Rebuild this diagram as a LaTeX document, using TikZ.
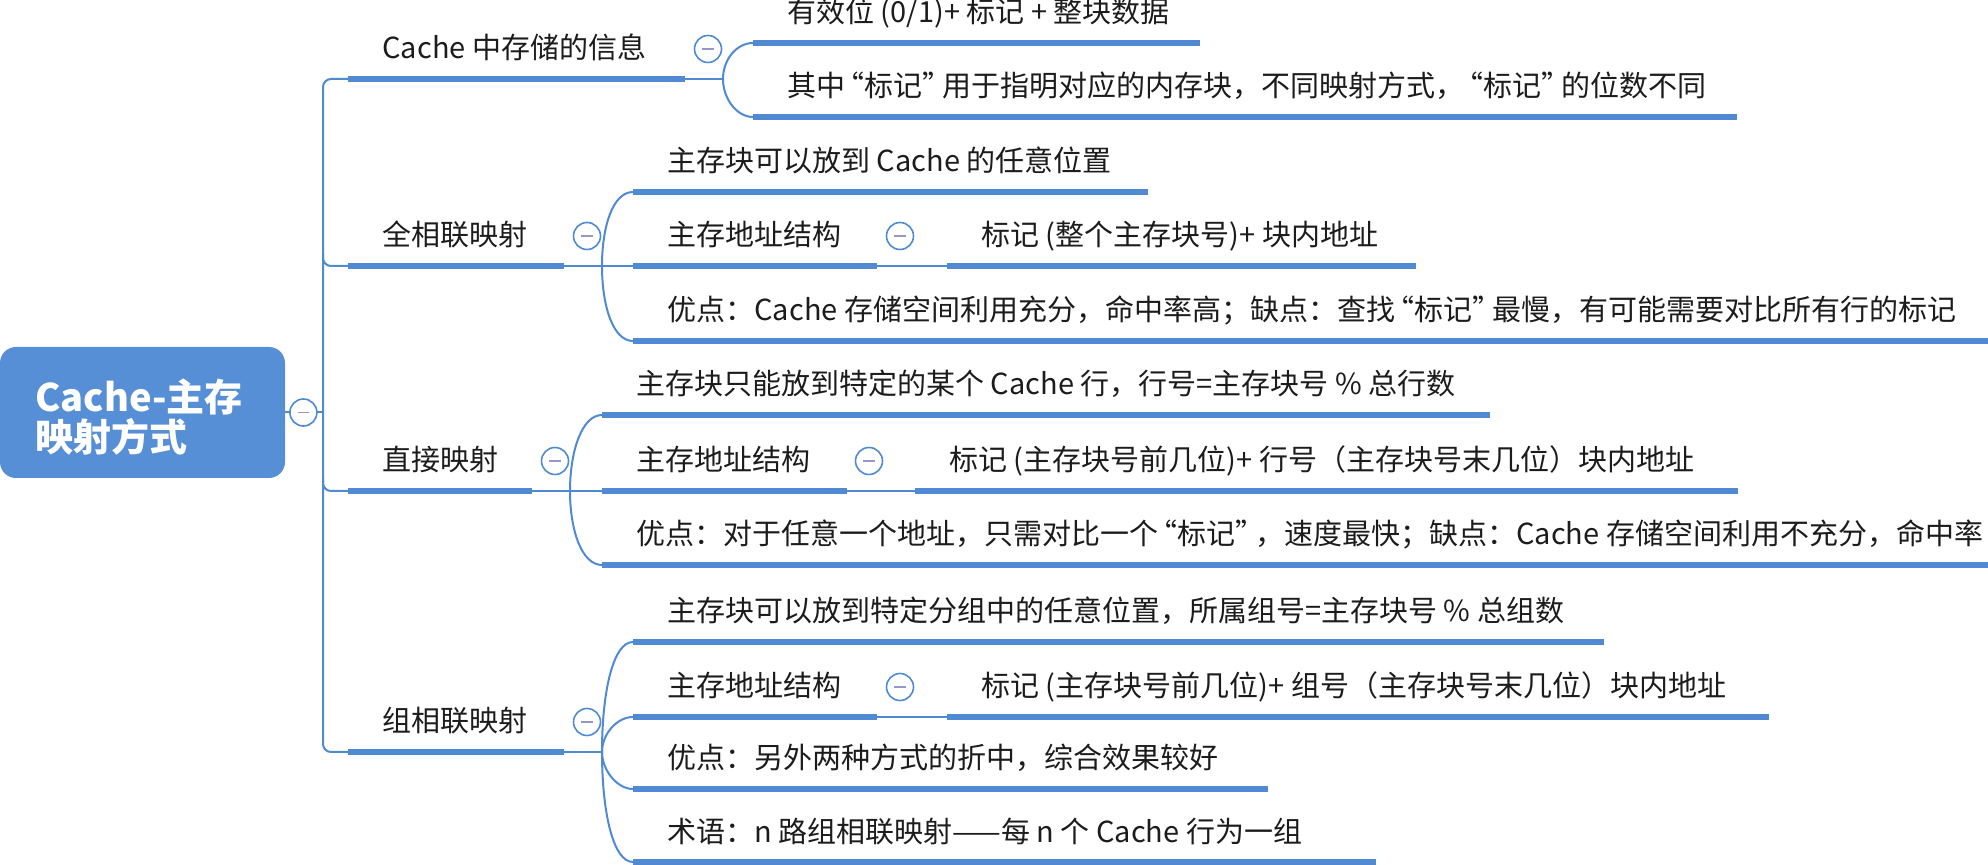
\documentclass[tikz,border=0pt]{standalone}
\usepackage{fontspec}
\setmainfont{Noto Sans CJK SC}
\usetikzlibrary{calc}

\definecolor{mapblue}{RGB}{79,138,211}
\definecolor{rootblue}{RGB}{86,143,214}
\definecolor{foldmark}{RGB}{150,150,200}
\definecolor{ink}{RGB}{28,28,28}

% narrower curly quotes
\newcommand\oq{\kern-0.33em“}
\newcommand\cq{”\kern-0.33em}

\begin{document}
\begin{tikzpicture}[x=0.5pt, y=-0.5pt,
    uline/.style={draw=mapblue, line width=2.6pt},
    conn/.style={draw=mapblue, line width=1pt},
    topic/.style={anchor=base west, inner sep=0pt, text=ink, font=\fontsize{14.5}{17}\selectfont},
    roottext/.style={anchor=west, align=left, inner sep=0pt, text=white, font=\bfseries\fontsize{19}{20}\selectfont},
    rootbox/.style={rounded corners=8pt, fill=rootblue, minimum width=142.5pt, minimum height=65.5pt, inner sep=0pt},
    fold/.style={circle, draw=mapblue, line width=0.8pt, fill=white, minimum size=13.5pt, inner sep=0pt,
        path picture={\draw[foldmark, line width=0.8pt] ([xshift=-2.8pt]path picture bounding box.center) -- ([xshift=2.8pt]path picture bounding box.center);}},
]
    \useasboundingbox (0,0) rectangle (1988,865);
    \clip (0,0) rectangle (1988,865);

    % root box
    \node[rootbox] (root) at (142.5,412.5) {};
    \node[roottext] (roottitle) at (35,417) {Cache-主存\\映射方式};

    % first level underlines
    \coordinate (cache-s) at (348,79);   \coordinate (cache-e) at (685,79);
    \coordinate (full-s) at (348,266);   \coordinate (full-e) at (564,266);
    \coordinate (direct-s) at (348,491); \coordinate (direct-e) at (532,491);
    \coordinate (group-s) at (348,752);  \coordinate (group-e) at (564,752);
    \coordinate (trunkbot) at (323,752);

    % trunk
    \draw[conn] (root.east) -- (root.east -| trunkbot);
    \draw[conn, rounded corners=4pt] (cache-s) -| (trunkbot) -- (group-s);
    \draw[conn, rounded corners=4pt] ($(trunkbot |- full-s)+(0,-12)$) |- (full-s);
    \draw[conn, rounded corners=4pt] ($(trunkbot |- direct-s)+(0,-12)$) |- (direct-s);

    % second level underlines
    \coordinate (valid-s) at (753,43);     \coordinate (valid-e) at (1200,43);
    \coordinate (tagnote-s) at (753,117);  \coordinate (tagnote-e) at (1737,117);
    \coordinate (fullplace-s) at (633,192); \coordinate (fullplace-e) at (1148,192);
    \coordinate (fulladdr-s) at (633,266);  \coordinate (fulladdr-e) at (877,266);
    \coordinate (fulltag-s) at (947,266);   \coordinate (fulltag-e) at (1416,266);
    \coordinate (fullpro-s) at (633,341);   \coordinate (fullpro-e) at (1988,341);
    \coordinate (dirplace-s) at (602,415);  \coordinate (dirplace-e) at (1490,415);
    \coordinate (diraddr-s) at (602,491);   \coordinate (diraddr-e) at (847,491);
    \coordinate (dirtag-s) at (915,491);    \coordinate (dirtag-e) at (1738,491);
    \coordinate (dirpro-s) at (602,565);    \coordinate (dirpro-e) at (1988,565);
    \coordinate (grpplace-s) at (633,642);  \coordinate (grpplace-e) at (1604,642);
    \coordinate (grpaddr-s) at (633,717);   \coordinate (grpaddr-e) at (877,717);
    \coordinate (grptag-s) at (947,717);    \coordinate (grptag-e) at (1769,717);
    \coordinate (grppro-s) at (633,789);    \coordinate (grppro-e) at (1268,789);
    \coordinate (grpterm-s) at (633,862);   \coordinate (grpterm-e) at (1376,862);

    % split points
    \coordinate (cachesplit) at ([xshift=19pt]cache-e);
    \coordinate (fullsplit) at ([xshift=19pt]full-e);
    \coordinate (directsplit) at ([xshift=19pt]direct-e);
    \coordinate (groupsplit) at ([xshift=19pt]group-e);

    % branches
    \draw[conn] (cache-e) -- (cachesplit);
    \draw[conn] (cachesplit) .. controls +(0,-20) and +(-16,0) .. (valid-s);
    \draw[conn] (cachesplit) .. controls +(0,20) and +(-16,0) .. (tagnote-s);

    \draw[conn] (full-e) -- (fullsplit) -- (fulladdr-s);
    \draw[conn] (fullsplit) .. controls +(0,-40) and +(-20,0) .. (fullplace-s);
    \draw[conn] (fullsplit) .. controls +(0,40) and +(-20,0) .. (fullpro-s);
    \draw[conn] (fulladdr-e) -- (fulltag-s);

    \draw[conn] (direct-e) -- (directsplit) -- (diraddr-s);
    \draw[conn] (directsplit) .. controls +(0,-40) and +(-20,0) .. (dirplace-s);
    \draw[conn] (directsplit) .. controls +(0,40) and +(-20,0) .. (dirpro-s);
    \draw[conn] (diraddr-e) -- (dirtag-s);

    \draw[conn] (group-e) -- (groupsplit);
    \draw[conn] (groupsplit) .. controls +(0,-60) and +(-20,0) .. (grpplace-s);
    \draw[conn] (groupsplit) .. controls +(0,-18) and +(-16,0) .. (grpaddr-s);
    \draw[conn] (groupsplit) .. controls +(0,18) and +(-16,0) .. (grppro-s);
    \draw[conn] (groupsplit) .. controls +(0,60) and +(-20,0) .. (grpterm-s);
    \draw[conn] (grpaddr-e) -- (grptag-s);

    % thick underlines
    \foreach \t in {cache,full,direct,group,valid,tagnote,fullplace,fulladdr,fulltag,fullpro,
        dirplace,diraddr,dirtag,dirpro,grpplace,grpaddr,grptag,grppro,grpterm}
        \draw[uline] (\t-s) -- (\t-e);

    % collapse buttons
    \node[fold] (rootfold) at ([xshift=9pt]root.east) {};
    \node[fold] (cachefold) at ([xshift=11.5pt,yshift=15pt]cache-e) {};
    \node[fold] (fullfold) at ([xshift=11.5pt,yshift=15pt]full-e) {};
    \node[fold] (directfold) at ([xshift=11.5pt,yshift=15pt]direct-e) {};
    \node[fold] (groupfold) at ([xshift=11.5pt,yshift=15pt]group-e) {};
    \node[fold] (fulladdrfold) at ([xshift=11.5pt,yshift=15pt]fulladdr-e) {};
    \node[fold] (diraddrfold) at ([xshift=11pt,yshift=15pt]diraddr-e) {};
    \node[fold] (grpaddrfold) at ([xshift=11.5pt,yshift=15pt]grpaddr-e) {};

    % texts
    \node[topic] (cache) at ([xshift=17pt,yshift=10pt]cache-s) {Cache 中存储的信息};
    \node[topic] (full) at ([xshift=17pt,yshift=10pt]full-s) {全相联映射};
    \node[topic] (direct) at ([xshift=17pt,yshift=10pt]direct-s) {直接映射};
    \node[topic] (group) at ([xshift=17pt,yshift=10pt]group-s) {组相联映射};

    \node[topic] (valid) at ([xshift=17pt,yshift=10pt]valid-s) {有效位 (0/1)+ 标记 + 整块数据};
    \node[topic] (tagnote) at ([xshift=17pt,yshift=10pt]tagnote-s) {其中\oq 标记\cq 用于指明对应的内存块，不同映射方式，\oq 标记\cq 的位数不同};

    \node[topic] (fullplace) at ([xshift=17pt,yshift=10pt]fullplace-s) {主存块可以放到 Cache 的任意位置};
    \node[topic] (fulladdr) at ([xshift=17pt,yshift=10pt]fulladdr-s) {主存地址结构};
    \node[topic] (fulltag) at ([xshift=17pt,yshift=10pt]fulltag-s) {标记 (整个主存块号)+ 块内地址};
    \node[topic] (fullpro) at ([xshift=17pt,yshift=10pt]fullpro-s) {优点：Cache 存储空间利用充分，命中率高；缺点：查找\oq 标记\cq 最慢，有可能需要对比所有行的标记};

    \node[topic] (dirplace) at ([xshift=17pt,yshift=10pt]dirplace-s) {主存块只能放到特定的某个 Cache 行，行号=主存块号 \% 总行数};
    \node[topic] (diraddr) at ([xshift=17pt,yshift=10pt]diraddr-s) {主存地址结构};
    \node[topic] (dirtag) at ([xshift=17pt,yshift=10pt]dirtag-s) {标记 (主存块号前几位)+ 行号（主存块号末几位）块内地址};
    \node[topic] (dirpro) at ([xshift=17pt,yshift=10pt]dirpro-s) {优点：对于任意一个地址，只需对比一个\oq 标记\cq，速度最快；缺点：Cache 存储空间利用不充分，命中率};

    \node[topic] (grpplace) at ([xshift=17pt,yshift=10pt]grpplace-s) {主存块可以放到特定分组中的任意位置，所属组号=主存块号 \% 总组数};
    \node[topic] (grpaddr) at ([xshift=17pt,yshift=10pt]grpaddr-s) {主存地址结构};
    \node[topic] (grptag) at ([xshift=17pt,yshift=10pt]grptag-s) {标记 (主存块号前几位)+ 组号（主存块号末几位）块内地址};
    \node[topic] (grppro) at ([xshift=17pt,yshift=10pt]grppro-s) {优点：另外两种方式的折中，综合效果较好};
    \node[topic] (grpterm) at ([xshift=17pt,yshift=10pt]grpterm-s) {术语：n 路组相联映射——每 n 个 Cache 行为一组};
\end{tikzpicture}
\end{document}
